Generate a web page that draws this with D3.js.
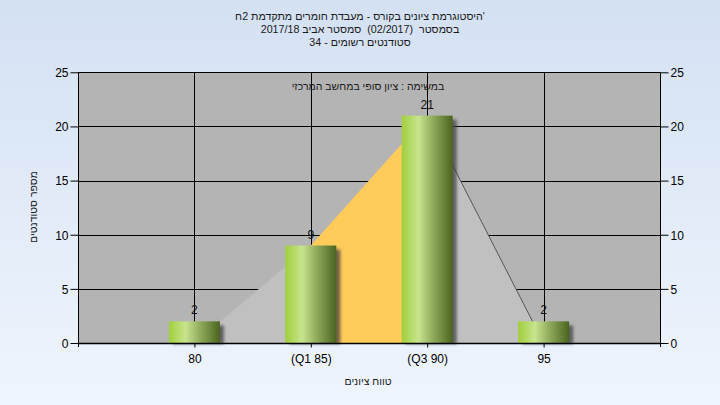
<!DOCTYPE html>
<html><head><meta charset="utf-8">
<script src="https://cdn.jsdelivr.net/npm/d3@7"></script>
<style>
html,body{margin:0;padding:0;}
svg{display:block;font-family:"Liberation Sans",Arial,sans-serif;}
.pre{white-space:pre;}
</style></head>
<body>
<svg id="chart" width="720" height="405"></svg>
<script>
const categories = ["80", "(Q1 85)", "(Q3 90)", "95"];
const counts = [2, 9, 21, 2];
const areaValues = [0, 9, 21, 0];
const yTicks = [0, 5, 10, 15, 20, 25];
const titleLines = [
  "היסטוגרמת ציונים בקורס - מעבדת חומרים מתקדמת 2ח'",
  "בסמסטר  (02/2017)  סמסטר אביב 2017/18",
  "סטודנטים רשומים - 34"
];
const titleDirs = ["ltr", "rtl", "rtl"];
const plotTitle = "במשימה : ציון סופי במחשב המרכזי";
const yTitle = "מספר סטודנטים";
const xTitle = "טווח ציונים";

const W = 720, H = 405;
const m = {left: 78, right: 660, top: 72.3, bottom: 343};
const svg = d3.select("#chart");
const defs = svg.append("defs");

const bg = defs.append("linearGradient").attr("id","bg").attr("x1",0).attr("y1",0).attr("x2",0).attr("y2",1);
bg.append("stop").attr("offset","0%").attr("stop-color","#d4e1f3");
bg.append("stop").attr("offset","100%").attr("stop-color","#eff5fd");

const bar = defs.append("linearGradient").attr("id","bar").attr("x1",0).attr("y1",0).attr("x2",1).attr("y2",0);
[["0%","#9fcf3c"],["33%","#c8e48e"],["60%","#93ad5e"],["100%","#4a6420"]].forEach(s=>bar.append("stop").attr("offset",s[0]).attr("stop-color",s[1]));

const blur = defs.append("filter").attr("id","shadow").attr("x","-20%").attr("y","-20%").attr("width","150%").attr("height","150%");
blur.append("feGaussianBlur").attr("stdDeviation",1.6);

svg.append("rect").attr("width",W).attr("height",H).attr("fill","url(#bg)");

const x = d3.scalePoint().domain(categories).range([m.left, m.right]).padding(1);
const y = d3.scaleLinear().domain([0,25]).range([m.bottom, m.top]);

// plot background
svg.append("rect").attr("x",m.left).attr("y",m.top).attr("width",m.right-m.left).attr("height",m.bottom-m.top).attr("fill","#b4b4b4");

// gridlines
svg.append("g").selectAll("line").data(yTicks).join("line")
  .attr("x1",m.left).attr("x2",m.right).attr("y1",d=>Math.round(y(d))+0.5).attr("y2",d=>Math.round(y(d))+0.5)
  .attr("stroke","#000").attr("stroke-width",1);
svg.append("g").selectAll("line").data(categories).join("line")
  .attr("x1",d=>Math.round(x(d))+0.5).attr("x2",d=>Math.round(x(d))+0.5).attr("y1",m.top).attr("y2",m.bottom)
  .attr("stroke","#000").attr("stroke-width",1);

// area segments
const pts = categories.map((c,i)=>[x(c), y(areaValues[i])]);
const areaGen = d3.area().x(d=>d[0]).y0(y(0)).y1(d=>d[1]);
const segColors = ["#c0c0c0","#ffcb5a","#c0c0c0"];
for (let i=0;i<3;i++){
  svg.append("path").attr("d", areaGen([pts[i],pts[i+1]])).attr("fill",segColors[i]);
}
svg.append("path").attr("d", d3.line()([pts[2],pts[3]])).attr("fill","none").attr("stroke","#555").attr("stroke-width",1);

// bars
const bw = 51;
const bars = svg.append("g");
bars.selectAll("rect.sh").data(counts).join("rect").attr("class","sh")
  .attr("x",(d,i)=>x(categories[i])-bw/2+4).attr("y",d=>y(d)+4)
  .attr("width",bw).attr("height",d=>y(0)-y(d)-3)
  .attr("fill","#404040").attr("opacity",0.75).attr("filter","url(#shadow)");
bars.selectAll("rect.b").data(counts).join("rect").attr("class","b")
  .attr("x",(d,i)=>x(categories[i])-bw/2).attr("y",d=>y(d))
  .attr("width",bw).attr("height",d=>y(0)-y(d))
  .attr("fill","url(#bar)");

// value labels
svg.append("g").selectAll("text").data(counts).join("text")
  .attr("x",(d,i)=>x(categories[i])).attr("y",d=>y(d)-7)
  .attr("text-anchor","middle").attr("font-size",12).attr("fill","#111")
  .text(d=>d);

// axes
const axL = d3.axisLeft(y).tickValues(yTicks).tickSize(8).tickPadding(2);
const axR = d3.axisRight(y).tickValues(yTicks).tickSize(8).tickPadding(2);
const axB = d3.axisBottom(x).tickSize(4).tickPadding(11);
function styleAxis(g){
  g.select(".domain").remove();
  g.selectAll("line").attr("stroke","#000");
  g.selectAll("text").attr("font-size",12).attr("fill","#000").attr("font-family","Liberation Sans, Arial, sans-serif");
}
svg.append("g").attr("transform",`translate(${m.left+0.5},0)`).call(axL).call(styleAxis);
svg.append("g").attr("transform",`translate(${m.right+0.5},0)`).call(axR).call(styleAxis);
svg.append("g").attr("transform",`translate(0,${m.bottom+0.5})`).call(axB).call(styleAxis);
svg.selectAll("g.tick text").attr("dy","0.36em");

// axis lines
svg.append("line").attr("x1",m.left+0.5).attr("x2",m.left+0.5).attr("y1",m.top).attr("y2",m.bottom+4).attr("stroke","#000");
svg.append("line").attr("x1",m.right+0.5).attr("x2",m.right+0.5).attr("y1",m.top).attr("y2",m.bottom+4).attr("stroke","#000");
svg.append("line").attr("x1",m.left).attr("x2",m.right+1).attr("y1",m.bottom+0.5).attr("y2",m.bottom+0.5).attr("stroke","#000").attr("stroke-width",1.5);

// titles
svg.append("g").selectAll("text").data(titleLines).join("text").attr("class","pre")
  .attr("x",360).attr("y",(d,i)=>20+i*13)
  .attr("text-anchor","middle").attr("direction",(d,i)=>titleDirs[i]).attr("font-size",10.7).attr("fill","#1a1a1a")
  .text(d=>d);
svg.append("text").attr("x",368).attr("y",90).attr("text-anchor","middle").attr("direction","rtl")
  .attr("font-size",10.5).attr("fill","#1a1a1a").text(plotTitle);
svg.append("text").attr("transform","translate(37,207) rotate(-90)").attr("text-anchor","middle").attr("direction","rtl")
  .attr("font-size",10.5).attr("fill","#1a1a1a").text(yTitle);
svg.append("text").attr("x",368).attr("y",385).attr("text-anchor","middle").attr("direction","rtl")
  .attr("font-size",10.5).attr("fill","#1a1a1a").text(xTitle);
</script>
</body></html>
